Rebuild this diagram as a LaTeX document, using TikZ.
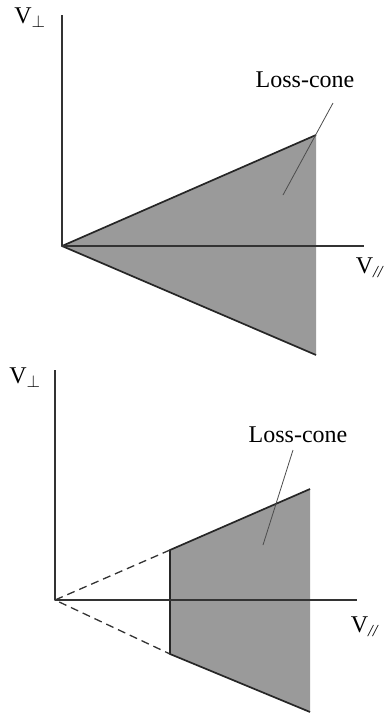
\documentclass[tikz,border=0pt]{standalone}
\usepackage{fontspec}
\setmainfont{Liberation Serif}
\definecolor{conefill}{HTML}{9A9A9A}

\begin{document}
\begin{tikzpicture}[x=1pt,y=-1pt,line join=round,
    axis/.style={draw=black!80,line width=1.3pt},
    coneedge/.style={draw=black!85,line width=1.7pt},
    leader/.style={draw=black!70,line width=0.8pt},
    lbl/.style={font=\fontsize{24}{26}\selectfont,inner sep=0pt}]
  % Match the artwork frame.
  \useasboundingbox (0,0) rectangle (384.000,715.000);

  % Upper panel: full cone from the origin.
  \coordinate (o1) at (62.000,246.000);
  \coordinate (t1) at (316.000,135.000);
  \coordinate (b1) at (316.000,355.000);
  \coordinate (ytop1) at (62.000,15.000);
  \coordinate (xend1) at (364.000,246.000);

  \fill[conefill] (o1) -- (t1) -- (b1) -- cycle;
  \draw[coneedge] (b1) -- (o1) -- (t1);
  \draw[axis] (ytop1) -- (o1) -- (xend1);

  \node[lbl] (vperp1) at (30.000,18.000) {V$_\perp$};
  \node[lbl] (vpar1) at (370.000,268.000) {V\textsubscript{\textit{//}}};
  \node[lbl] (loss1) at (305.000,80.000) {Loss-cone};
  \coordinate (lead1) at (333.000,103.000);
  \coordinate (tip1) at (283.000,195.000);
  \draw[leader] (lead1) -- (tip1);

  % Lower panel: cone cut off at low parallel speed.
  \coordinate (o2) at (55.000,600.000);
  \coordinate (ct2) at (170.000,550.000);
  \coordinate (cb2) at (170.000,654.000);
  \coordinate (t2) at (310.000,489.000);
  \coordinate (b2) at (310.000,712.000);
  \coordinate (ytop2) at (55.000,370.000);
  \coordinate (xend2) at (357.000,600.000);

  \fill[conefill] (ct2) -- (t2) -- (b2) -- (cb2) -- cycle;
  \draw[coneedge] (t2) -- (ct2) -- (cb2) -- (b2);
  \draw[axis,dash pattern=on 8pt off 5pt] (ct2) -- (o2) -- (cb2);
  \draw[axis] (ytop2) -- (o2) -- (xend2);

  \node[lbl] (vperp2) at (25.000,378.000) {V$_\perp$};
  \node[lbl] (vpar2) at (365.000,627.000) {V\textsubscript{\textit{//}}};
  \node[lbl] (loss2) at (298.000,435.000) {Loss-cone};
  \coordinate (lead2) at (293.000,450.000);
  \coordinate (tip2) at (263.000,545.000);
  \draw[leader] (lead2) -- (tip2);
\end{tikzpicture}
\end{document}
